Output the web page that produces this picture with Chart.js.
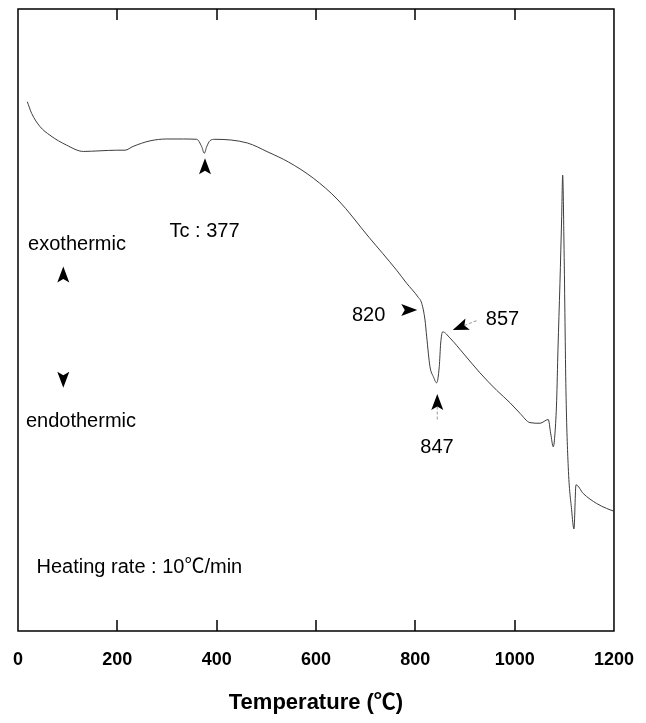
<!DOCTYPE html>
<html>
<head>
<meta charset="utf-8">
<title>DTA curve</title>
<script src="https://cdn.jsdelivr.net/npm/chart.js@4.4.1/dist/chart.umd.min.js"></script>
<style>
  html, body { margin: 0; padding: 0; background: #ffffff; }
  #dta { display: block; }
</style>
</head>
<body>
<canvas id="dta" width="646" height="723"></canvas>
<script>
/* ------------------------------------------------------------
   DATA (arbitrary y units)
------------------------------------------------------------ */
const temps = [
    18.7, 27.6, 44.3, 64.4, 98.1, 131.5, 165.1, 198.7, 215.4, 231.5,
    265.8, 299.4, 332.8, 359.8, 369.9, 375.1, 379.9, 386.6, 396.6, 461.7,
    503.4, 544.6, 594.6, 644.3, 706.7, 762.4, 782.6, 805.4, 812.8, 819.5,
    822.9, 829.5, 836.2, 843.0, 848.2, 851.1, 855.1, 869.8, 896.0, 930.2,
    963.8, 990.6, 1010.7, 1030.9, 1051.0, 1067.7, 1072.5, 1077.8, 1081.2, 1084.6,
    1087.2, 1091.2, 1094.7, 1096.7, 1099.5, 1103.3, 1107.9, 1114.7, 1119.4, 1123.5,
    1138.2, 1165.1, 1185.3, 1198.6
];
const signal = [
    85.1, 83.2, 81.1, 79.7, 78.1, 77.1, 77.2, 77.3, 77.3, 77.9,
    78.8, 79.1, 79.1, 79.05, 77.86, 76.8, 77.86, 78.83, 79.05, 78.46,
    77.0, 75.4, 72.8, 69.3, 63.3, 58.0, 55.9, 53.7, 52.7, 50.0,
    47.3, 42.5, 40.9, 39.9, 42.5, 46.3, 48.1, 47.1, 44.7, 41.5,
    38.7, 36.7, 35.0, 33.5, 33.4, 34.0, 31.8, 29.6, 31.8, 37.1,
    45.2, 55.9, 66.6, 73.3, 61.3, 38.7, 26.4, 19.5, 16.4, 23.5,
    22.1, 20.5, 19.7, 19.3
];

const xMin = 0, xMax = 1200, xStep = 200;
const axisTitle = "Temperature (\u2103)";

// annotation texts, placed in data units (temperature, signal)
const noteTexts   = ["Tc : 377", "exothermic", "endothermic", "Heating rate : 10\u2103/min", "820", "857", "847"];
const noteTemps   = [375.5, 118.8, 126.8, 244.4, 706.1, 975.5, 843.6];
const noteSignals = [63.4, 61.25, 32.85, 9.32, 49.8, 49.2, 28.6];

// arrow tips in data units
const arrowTemps   = [376.5, 91.2, 91.2, 803.9, 875.3, 844.2];
const arrowSignals = [76.0, 58.6, 39.1, 51.6, 48.4, 38.1];

/* ------------------------------------------------------------
   STYLE
------------------------------------------------------------ */
const FONT = "'Liberation Sans', Arial, 'Noto Sans CJK KR', sans-serif";
const arrowAngles = [-90, -90, 90, 0, 158.8, -90];   // direction the tip points
const arrowTails  = [0, 0, 0, 0, 26, 26];            // dashed tail length, px

function drawArrow(ctx, px, py, angleDeg, tail) {
    const L = 16, W = 6, N = 3.5;
    ctx.save();
    ctx.translate(px, py);
    ctx.rotate(angleDeg * Math.PI / 180);
    if (tail > 0) {
        ctx.strokeStyle = "#9a9a9a";
        ctx.lineWidth = 1;
        ctx.setLineDash([3, 2]);
        ctx.beginPath();
        ctx.moveTo(-L + N, 0);
        ctx.lineTo(-tail, 0);
        ctx.stroke();
        ctx.setLineDash([]);
    }
    ctx.fillStyle = "#000";
    ctx.beginPath();
    ctx.moveTo(0, 0);
    ctx.lineTo(-L, -W);
    ctx.lineTo(-L + N, 0);
    ctx.lineTo(-L, W);
    ctx.closePath();
    ctx.fill();
    ctx.restore();
}

/* ------------------------------------------------------------
   FRAME, INWARD TICKS AND ANNOTATIONS
------------------------------------------------------------ */
const framePlugin = {
    id: "frame",
    afterDraw(chart) {
        const { ctx, chartArea: a, scales } = chart;
        const x = scales.x, y = scales.y;
        ctx.save();

        ctx.strokeStyle = "#000";
        ctx.lineWidth = 1.5;
        ctx.strokeRect(a.left, a.top, a.right - a.left, a.bottom - a.top);

        ctx.beginPath();
        x.ticks.forEach(t => {
            if (t.value <= x.min || t.value >= x.max) return;
            const px = Math.round(x.getPixelForValue(t.value));
            ctx.moveTo(px, a.top);
            ctx.lineTo(px, a.top + 11);
            ctx.moveTo(px, a.bottom);
            ctx.lineTo(px, a.bottom - 11);
        });
        ctx.stroke();

        ctx.fillStyle = "#000";
        ctx.font = "20px " + FONT;
        ctx.textAlign = "center";
        ctx.textBaseline = "alphabetic";
        noteTexts.forEach((txt, i) => {
            ctx.fillText(txt, x.getPixelForValue(noteTemps[i]), y.getPixelForValue(noteSignals[i]));
        });

        arrowTemps.forEach((t, i) => {
            drawArrow(ctx, x.getPixelForValue(t), y.getPixelForValue(arrowSignals[i]),
                      arrowAngles[i], arrowTails[i]);
        });

        ctx.restore();
    }
};

/* ------------------------------------------------------------
   CHART
------------------------------------------------------------ */
new Chart(document.getElementById("dta"), {
    type: "line",
    data: {
        datasets: [{
            data: temps.map((t, i) => ({ x: t, y: signal[i] })),
            borderColor: "#3c3c3c",
            borderWidth: 1,
            pointRadius: 0,
            fill: false,
            cubicInterpolationMode: "monotone"
        }]
    },
    options: {
        responsive: false,
        animation: false,
        devicePixelRatio: 1,
        layout: { padding: { top: 9, left: 18, right: 32, bottom: 7 } },
        plugins: { legend: { display: false }, tooltip: { enabled: false } },
        scales: {
            x: {
                type: "linear",
                min: xMin,
                max: xMax,
                grid: { display: false, drawTicks: false },
                border: { display: false },
                ticks: {
                    stepSize: xStep,
                    maxRotation: 0,
                    padding: 12,
                    color: "#000",
                    callback: v => String(v),
                    font: { family: FONT, size: 18, weight: "bold", lineHeight: 1.889 }
                },
                title: {
                    display: true,
                    text: axisTitle,
                    color: "#000",
                    padding: { top: 0.6, bottom: 0 },
                    font: { family: FONT, size: 22, weight: "bold" }
                }
            },
            y: {
                type: "linear",
                min: 0,
                max: 100,
                display: false
            }
        }
    },
    plugins: [framePlugin]
});
</script>
</body>
</html>
